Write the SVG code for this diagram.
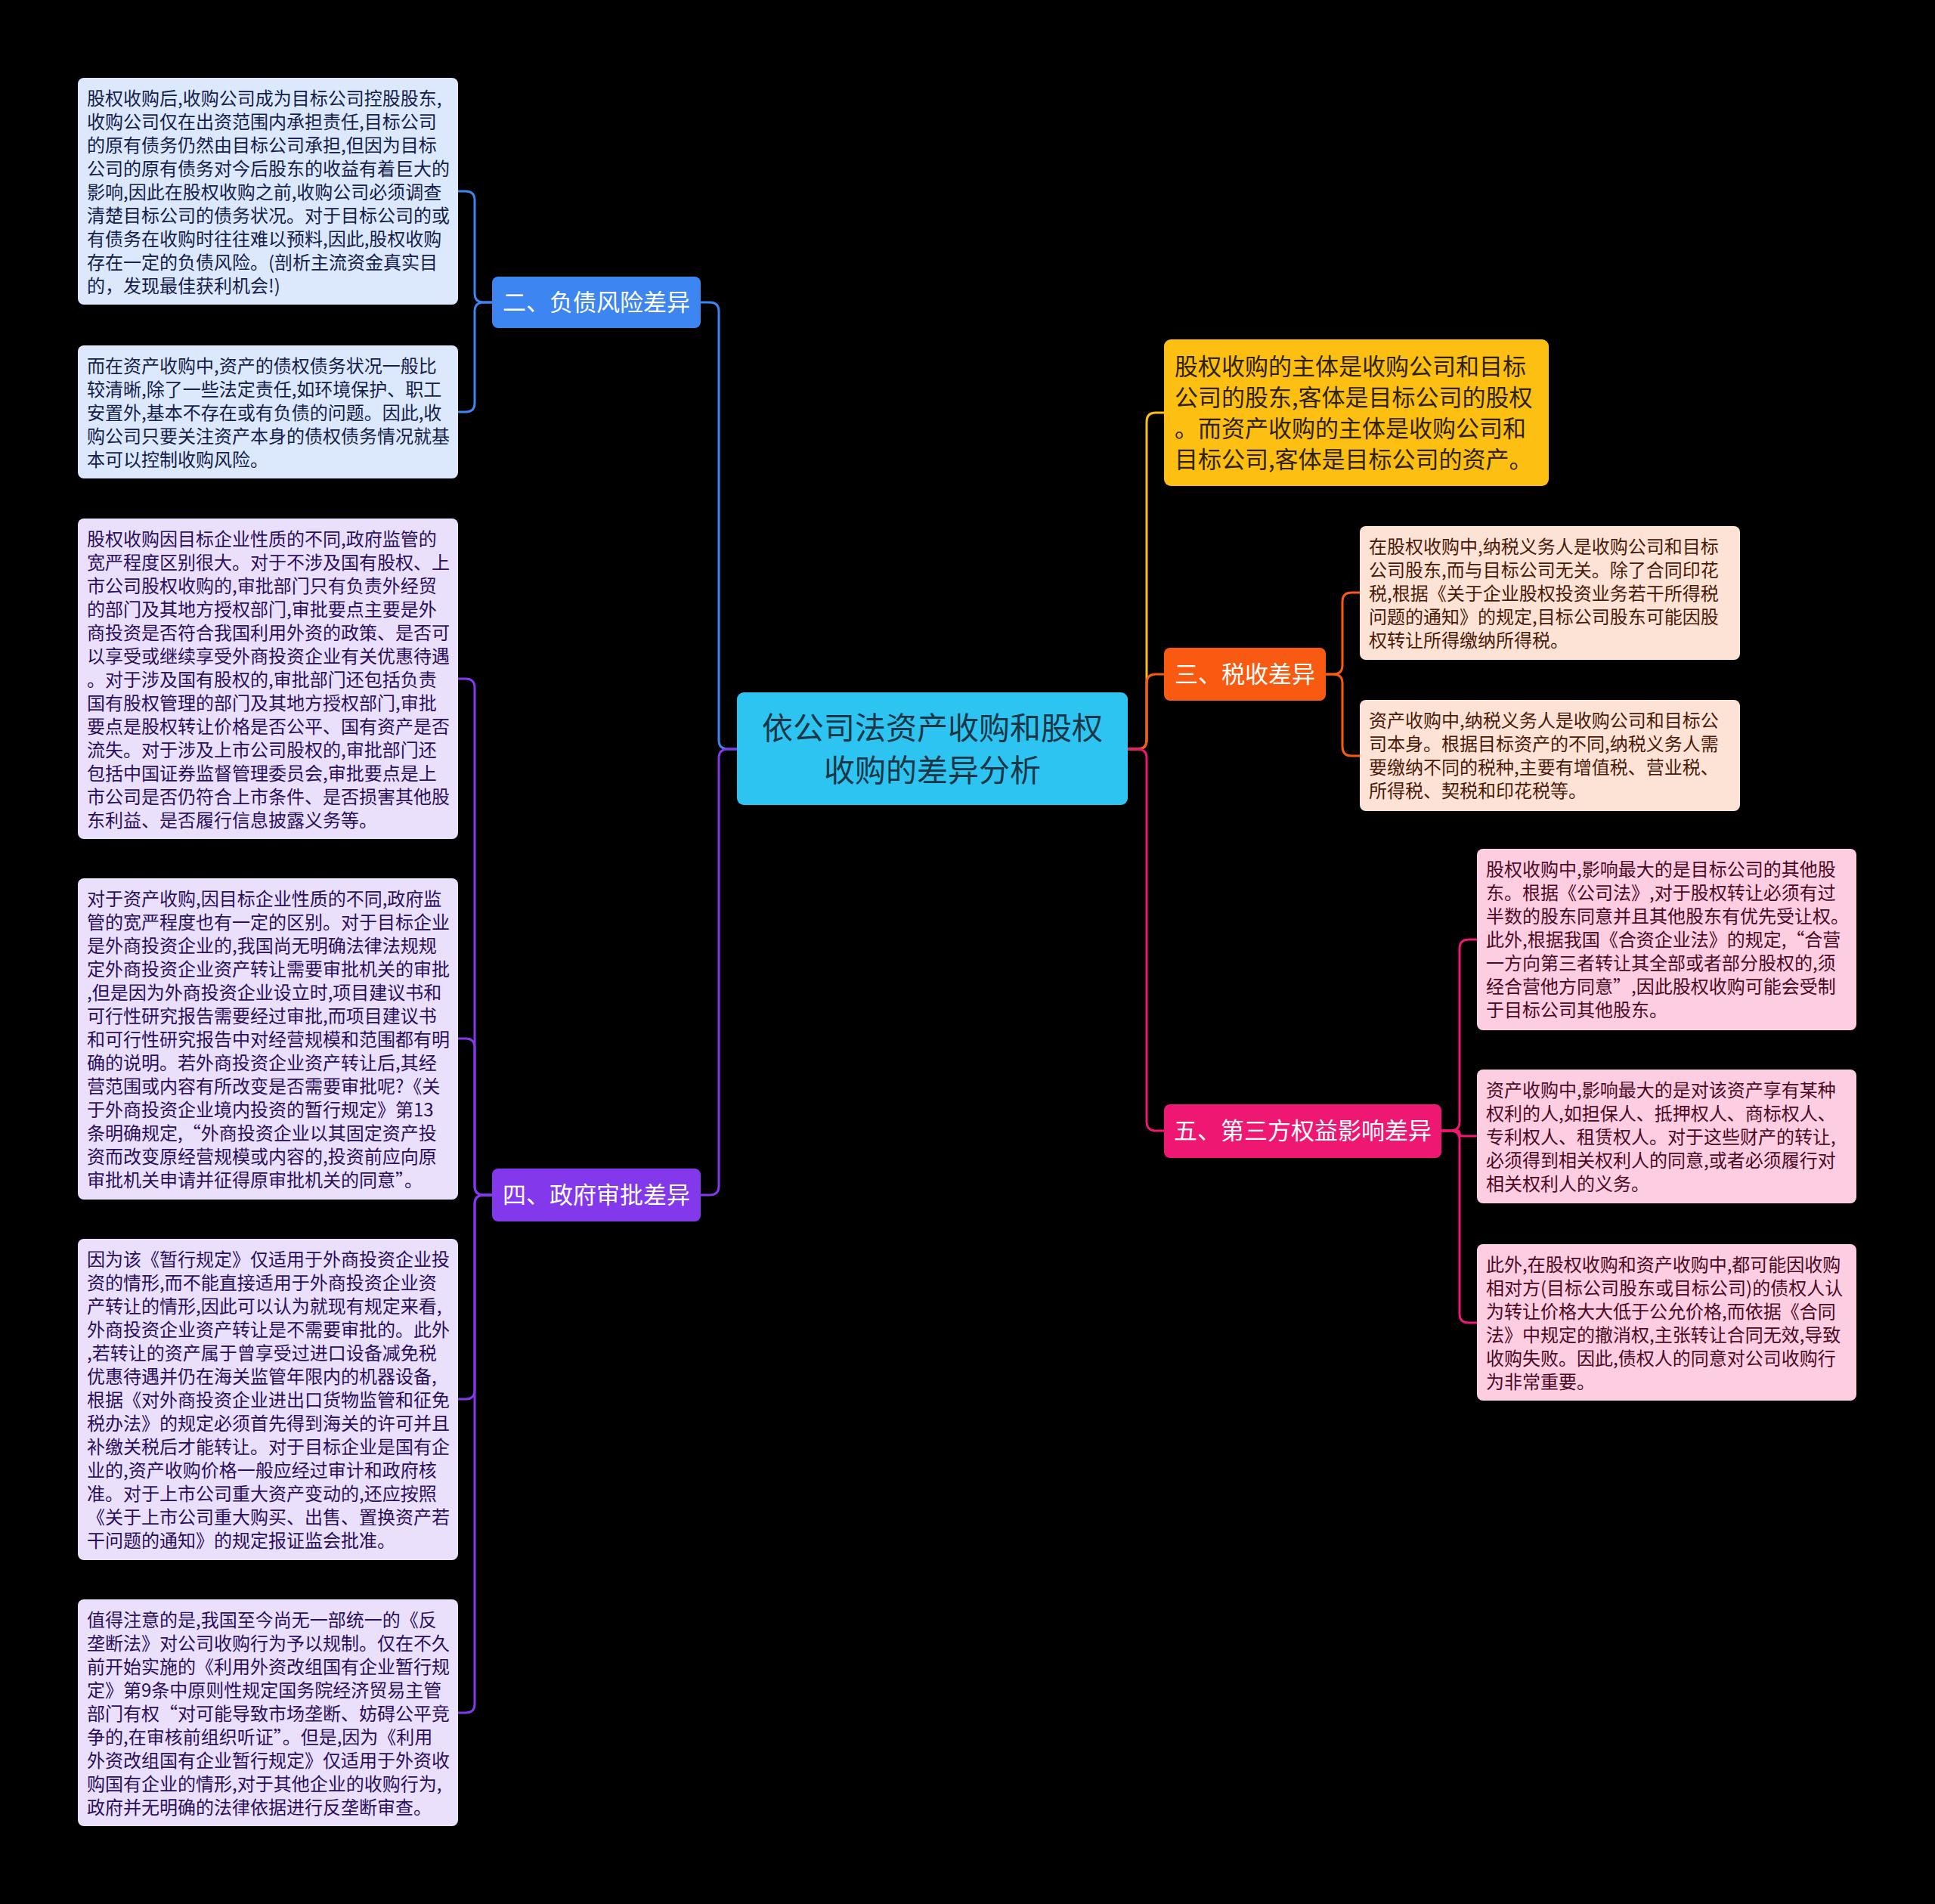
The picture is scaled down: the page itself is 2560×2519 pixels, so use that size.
<svg xmlns="http://www.w3.org/2000/svg" width="2560" height="2519" viewBox="0 0 2560 2519">
<style>
text{font-family:"Noto Sans CJK SC","Noto Sans",sans-serif;}
.leaf{font-size:24px;}
.br{font-size:31px;fill:#ffffff;text-anchor:middle;}
.rt{font-size:41px;fill:#1C3646;text-anchor:middle;}
.ln{fill:none;stroke-width:3;stroke-linecap:round;}
</style>
<rect x="0" y="0" width="2560" height="2519" fill="#000000"/>
<g id="connectors">
  <path class="ln" stroke="#3D85F0" d="M975,991 L963,991 Q951,991 951,979 L951,412 Q951,400 939,400 L927,400"/>
  <path class="ln" stroke="#8338EC" d="M975,991 L963,991 Q951,991 951,1003 L951,1569 Q951,1581 939,1581 L927,1581"/>
  <path class="ln" stroke="#FCBF12" d="M1492,991 L1505,991 Q1517,991 1517,979 L1517,558 Q1517,546 1529,546 L1540,546"/>
  <path class="ln" stroke="#F95A12" d="M1492,991 L1505,991 Q1517,991 1517,979 L1517,904 Q1517,892 1529,892 L1540,892"/>
  <path class="ln" stroke="#EE1873" d="M1492,991 L1505,991 Q1517,991 1517,1003 L1517,1484 Q1517,1496 1529,1496 L1540,1496"/>
  <path class="ln" stroke="#3D85F0" d="M651,400 L640,400 Q628,400 628,388 L628,265 Q628,253 616,253 L606,253"/>
  <path class="ln" stroke="#3D85F0" d="M651,400 L640,400 Q628,400 628,412 L628,533 Q628,545 616,545 L606,545"/>
  <path class="ln" stroke="#8338EC" d="M651,1581 L640,1581 Q628,1581 628,1569 L628,910 Q628,898 616,898 L606,898"/>
  <path class="ln" stroke="#8338EC" d="M651,1581 L640,1581 Q628,1581 628,1569 L628,1386 Q628,1374 616,1374 L606,1374"/>
  <path class="ln" stroke="#8338EC" d="M651,1581 L640,1581 Q628,1581 628,1593 L628,1839 Q628,1851 616,1851 L606,1851"/>
  <path class="ln" stroke="#8338EC" d="M651,1581 L640,1581 Q628,1581 628,1593 L628,2254 Q628,2266 616,2266 L606,2266"/>
  <path class="ln" stroke="#F95A12" d="M1754,892 L1764,892 Q1776,892 1776,880 L1776,796 Q1776,784 1788,784 L1799,784"/>
  <path class="ln" stroke="#F95A12" d="M1754,892 L1764,892 Q1776,892 1776,904 L1776,988 Q1776,1000 1788,1000 L1799,1000"/>
  <path class="ln" stroke="#EE1873" d="M1907,1496 L1919,1496 Q1931,1496 1931,1484 L1931,1255 Q1931,1243 1943,1243 L1954,1243"/>
  <path class="ln" stroke="#EE1873" d="M1907,1496 L1927.5,1496 Q1931,1496 1931,1499.5 Q1931,1503 1934.5,1503 L1954,1503"/>
  <path class="ln" stroke="#EE1873" d="M1907,1496 L1919,1496 Q1931,1496 1931,1508 L1931,1738 Q1931,1750 1943,1750 L1954,1750"/>
</g>
<g id="root">
  <rect x="975" y="916" width="517" height="149" rx="9" fill="#2EC4F2"/>
  <text class="rt" x="1233.5" y="978">依公司法资产收购和股权</text>
  <text class="rt" x="1233.5" y="1034">收购的差异分析</text>
</g>
<g id="b2">
  <rect x="651" y="366" width="276" height="68" rx="8" fill="#3D85F0"/>
  <text class="br" x="789" y="411">二、负债风险差异</text>
</g>
<g id="b4">
  <rect x="651" y="1546" width="276" height="70" rx="8" fill="#8338EC"/>
  <text class="br" x="789" y="1592">四、政府审批差异</text>
</g>
<g id="b1">
  <rect x="1540" y="449" width="509" height="194" rx="9" fill="#FCBF12"/>
  <text x="1554" y="496" font-size="31" fill="#2E2200"><tspan x="1554">股权收购的主体是收购公司和目标</tspan><tspan x="1554" dy="41">公司的股东,客体是目标公司的股权</tspan><tspan x="1554" dy="41">。而资产收购的主体是收购公司和</tspan><tspan x="1554" dy="41">目标公司,客体是目标公司的资产。</tspan></text>
</g>
<g id="b3">
  <rect x="1540" y="857" width="214" height="70" rx="8" fill="#F95A12"/>
  <text class="br" x="1647" y="903">三、税收差异</text>
</g>
<g id="b5">
  <rect x="1540" y="1461" width="367" height="71" rx="8" fill="#EE1873"/>
  <text class="br" x="1723.5" y="1507">五、第三方权益影响差异</text>
</g>
<g id="leaf2a">
  <rect x="103" y="103" width="503" height="300" rx="8" fill="#DCE9FC"/>
  <text class="leaf" x="115" y="139" fill="#14204A"><tspan x="115">股权收购后,收购公司成为目标公司控股股东,</tspan><tspan x="115" dy="31">收购公司仅在出资范围内承担责任,目标公司</tspan><tspan x="115" dy="31">的原有债务仍然由目标公司承担,但因为目标</tspan><tspan x="115" dy="31">公司的原有债务对今后股东的收益有着巨大的</tspan><tspan x="115" dy="31">影响,因此在股权收购之前,收购公司必须调查</tspan><tspan x="115" dy="31">清楚目标公司的债务状况。对于目标公司的或</tspan><tspan x="115" dy="31">有债务在收购时往往难以预料,因此,股权收购</tspan><tspan x="115" dy="31">存在一定的负债风险。(剖析主流资金真实目</tspan><tspan x="115" dy="31">的，发现最佳获利机会!)</tspan></text>
</g>
<g id="leaf2b">
  <rect x="103" y="457" width="503" height="176" rx="8" fill="#DCE9FC"/>
  <text class="leaf" x="115" y="493" fill="#14204A"><tspan x="115">而在资产收购中,资产的债权债务状况一般比</tspan><tspan x="115" dy="31">较清晰,除了一些法定责任,如环境保护、职工</tspan><tspan x="115" dy="31">安置外,基本不存在或有负债的问题。因此,收</tspan><tspan x="115" dy="31">购公司只要关注资产本身的债权债务情况就基</tspan><tspan x="115" dy="31">本可以控制收购风险。</tspan></text>
</g>
<g id="leaf4a">
  <rect x="103" y="686" width="503" height="424" rx="8" fill="#EBE0FB"/>
  <text class="leaf" x="115" y="722" fill="#2A0F5C"><tspan x="115">股权收购因目标企业性质的不同,政府监管的</tspan><tspan x="115" dy="31">宽严程度区别很大。对于不涉及国有股权、上</tspan><tspan x="115" dy="31">市公司股权收购的,审批部门只有负责外经贸</tspan><tspan x="115" dy="31">的部门及其地方授权部门,审批要点主要是外</tspan><tspan x="115" dy="31">商投资是否符合我国利用外资的政策、是否可</tspan><tspan x="115" dy="31">以享受或继续享受外商投资企业有关优惠待遇</tspan><tspan x="115" dy="31">。对于涉及国有股权的,审批部门还包括负责</tspan><tspan x="115" dy="31">国有股权管理的部门及其地方授权部门,审批</tspan><tspan x="115" dy="31">要点是股权转让价格是否公平、国有资产是否</tspan><tspan x="115" dy="31">流失。对于涉及上市公司股权的,审批部门还</tspan><tspan x="115" dy="31">包括中国证券监督管理委员会,审批要点是上</tspan><tspan x="115" dy="31">市公司是否仍符合上市条件、是否损害其他股</tspan><tspan x="115" dy="31">东利益、是否履行信息披露义务等。</tspan></text>
</g>
<g id="leaf4b">
  <rect x="103" y="1162" width="503" height="425" rx="8" fill="#EBE0FB"/>
  <text class="leaf" x="115" y="1198" fill="#2A0F5C"><tspan x="115">对于资产收购,因目标企业性质的不同,政府监</tspan><tspan x="115" dy="31">管的宽严程度也有一定的区别。对于目标企业</tspan><tspan x="115" dy="31">是外商投资企业的,我国尚无明确法律法规规</tspan><tspan x="115" dy="31">定外商投资企业资产转让需要审批机关的审批</tspan><tspan x="115" dy="31">,但是因为外商投资企业设立时,项目建议书和</tspan><tspan x="115" dy="31">可行性研究报告需要经过审批,而项目建议书</tspan><tspan x="115" dy="31">和可行性研究报告中对经营规模和范围都有明</tspan><tspan x="115" dy="31">确的说明。若外商投资企业资产转让后,其经</tspan><tspan x="115" dy="31">营范围或内容有所改变是否需要审批呢?《关</tspan><tspan x="115" dy="31">于外商投资企业境内投资的暂行规定》第13</tspan><tspan x="115" dy="31">条明确规定,“外商投资企业以其固定资产投</tspan><tspan x="115" dy="31">资而改变原经营规模或内容的,投资前应向原</tspan><tspan x="115" dy="31">审批机关申请并征得原审批机关的同意”。</tspan></text>
</g>
<g id="leaf4c">
  <rect x="103" y="1639" width="503" height="425" rx="8" fill="#EBE0FB"/>
  <text class="leaf" x="115" y="1675" fill="#2A0F5C"><tspan x="115">因为该《暂行规定》仅适用于外商投资企业投</tspan><tspan x="115" dy="31">资的情形,而不能直接适用于外商投资企业资</tspan><tspan x="115" dy="31">产转让的情形,因此可以认为就现有规定来看,</tspan><tspan x="115" dy="31">外商投资企业资产转让是不需要审批的。此外</tspan><tspan x="115" dy="31">,若转让的资产属于曾享受过进口设备减免税</tspan><tspan x="115" dy="31">优惠待遇并仍在海关监管年限内的机器设备,</tspan><tspan x="115" dy="31">根据《对外商投资企业进出口货物监管和征免</tspan><tspan x="115" dy="31">税办法》的规定必须首先得到海关的许可并且</tspan><tspan x="115" dy="31">补缴关税后才能转让。对于目标企业是国有企</tspan><tspan x="115" dy="31">业的,资产收购价格一般应经过审计和政府核</tspan><tspan x="115" dy="31">准。对于上市公司重大资产变动的,还应按照</tspan><tspan x="115" dy="31">《关于上市公司重大购买、出售、置换资产若</tspan><tspan x="115" dy="31">干问题的通知》的规定报证监会批准。</tspan></text>
</g>
<g id="leaf4d">
  <rect x="103" y="2116" width="503" height="300" rx="8" fill="#EBE0FB"/>
  <text class="leaf" x="115" y="2152" fill="#2A0F5C"><tspan x="115">值得注意的是,我国至今尚无一部统一的《反</tspan><tspan x="115" dy="31">垄断法》对公司收购行为予以规制。仅在不久</tspan><tspan x="115" dy="31">前开始实施的《利用外资改组国有企业暂行规</tspan><tspan x="115" dy="31">定》第9条中原则性规定国务院经济贸易主管</tspan><tspan x="115" dy="31">部门有权“对可能导致市场垄断、妨碍公平竞</tspan><tspan x="115" dy="31">争的,在审核前组织听证”。但是,因为《利用</tspan><tspan x="115" dy="31">外资改组国有企业暂行规定》仅适用于外资收</tspan><tspan x="115" dy="31">购国有企业的情形,对于其他企业的收购行为,</tspan><tspan x="115" dy="31">政府并无明确的法律依据进行反垄断审查。</tspan></text>
</g>
<g id="leaf3a">
  <rect x="1799" y="696" width="503" height="177" rx="8" fill="#FDE3D6"/>
  <text class="leaf" x="1811" y="732" fill="#4A1A08"><tspan x="1811">在股权收购中,纳税义务人是收购公司和目标</tspan><tspan x="1811" dy="31">公司股东,而与目标公司无关。除了合同印花</tspan><tspan x="1811" dy="31">税,根据《关于企业股权投资业务若干所得税</tspan><tspan x="1811" dy="31">问题的通知》的规定,目标公司股东可能因股</tspan><tspan x="1811" dy="31">权转让所得缴纳所得税。</tspan></text>
</g>
<g id="leaf3b">
  <rect x="1799" y="926" width="503" height="147" rx="8" fill="#FDE3D6"/>
  <text class="leaf" x="1811" y="962" fill="#4A1A08"><tspan x="1811">资产收购中,纳税义务人是收购公司和目标公</tspan><tspan x="1811" dy="31">司本身。根据目标资产的不同,纳税义务人需</tspan><tspan x="1811" dy="31">要缴纳不同的税种,主要有增值税、营业税、</tspan><tspan x="1811" dy="31">所得税、契税和印花税等。</tspan></text>
</g>
<g id="leaf5a">
  <rect x="1954" y="1123" width="502" height="240" rx="8" fill="#FDCDE1"/>
  <text class="leaf" x="1966" y="1159" fill="#4B0A24"><tspan x="1966">股权收购中,影响最大的是目标公司的其他股</tspan><tspan x="1966" dy="31">东。根据《公司法》,对于股权转让必须有过</tspan><tspan x="1966" dy="31">半数的股东同意并且其他股东有优先受让权。</tspan><tspan x="1966" dy="31">此外,根据我国《合资企业法》的规定,“合营</tspan><tspan x="1966" dy="31">一方向第三者转让其全部或者部分股权的,须</tspan><tspan x="1966" dy="31">经合营他方同意”,因此股权收购可能会受制</tspan><tspan x="1966" dy="31">于目标公司其他股东。</tspan></text>
</g>
<g id="leaf5b">
  <rect x="1954" y="1415" width="502" height="177" rx="8" fill="#FDCDE1"/>
  <text class="leaf" x="1966" y="1451" fill="#4B0A24"><tspan x="1966">资产收购中,影响最大的是对该资产享有某种</tspan><tspan x="1966" dy="31">权利的人,如担保人、抵押权人、商标权人、</tspan><tspan x="1966" dy="31">专利权人、租赁权人。对于这些财产的转让,</tspan><tspan x="1966" dy="31">必须得到相关权利人的同意,或者必须履行对</tspan><tspan x="1966" dy="31">相关权利人的义务。</tspan></text>
</g>
<g id="leaf5c">
  <rect x="1954" y="1646" width="502" height="207" rx="8" fill="#FDCDE1"/>
  <text class="leaf" x="1966" y="1682" fill="#4B0A24"><tspan x="1966">此外,在股权收购和资产收购中,都可能因收购</tspan><tspan x="1966" dy="31">相对方(目标公司股东或目标公司)的债权人认</tspan><tspan x="1966" dy="31">为转让价格大大低于公允价格,而依据《合同</tspan><tspan x="1966" dy="31">法》中规定的撤消权,主张转让合同无效,导致</tspan><tspan x="1966" dy="31">收购失败。因此,债权人的同意对公司收购行</tspan><tspan x="1966" dy="31">为非常重要。</tspan></text>
</g>
</svg>
